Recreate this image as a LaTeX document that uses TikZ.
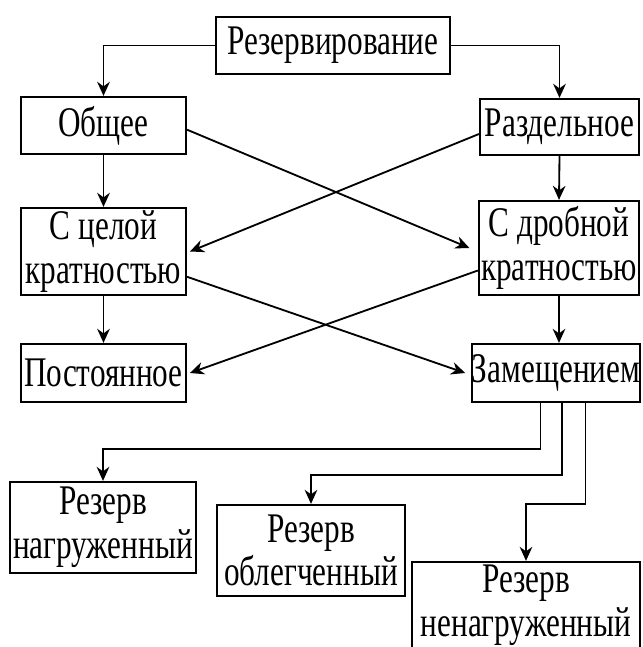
\documentclass[tikz,border=0pt]{standalone}
\usepackage{fontspec}
\setmainfont{Liberation Serif}[FakeStretch=0.74]
\usepackage{tikz}
\usetikzlibrary{positioning,arrows.meta}
\newdimen\pxu
\pxu=0.025cm

\begin{document}
\begin{tikzpicture}[x=\pxu,y=-\pxu,
		box/.style={draw,line width=1.6pt,inner sep=0pt,align=center,
			font=\fontsize{30}{31}\selectfont},
		link/.style={line width=1.3pt,-{Stealth[length=10pt,width=9pt]}}]
		\useasboundingbox (0,0) rectangle (643,647);

		% Top level
		\node[box,minimum width=234\pxu,minimum height=57\pxu] (rez) at (333,45.5) {Резервирование};
		\node[box,minimum width=165\pxu,minimum height=57\pxu] (obsh) at (103.5,125.5) {Общее};
		\node[box,minimum width=159\pxu,minimum height=56\pxu] (razd) at (559.5,127) {Раздельное};

		% Multiplicity
		\node[box,minimum width=165\pxu,minimum height=87\pxu] (celoi) at (103.5,251.5) {С целой\\кратностью};
		\node[box,minimum width=160\pxu,minimum height=94\pxu] (drob) at (559,248) {С дробной\\кратностью};

		% Kind of switching
		\node[box,minimum width=165\pxu,minimum height=58\pxu] (post) at (103.5,373) {Постоянное};
		\node[box,minimum width=168\pxu,minimum height=58\pxu] (zam) at (556,373) {Замещением};

		% Reserve states
		\node[box,minimum width=186\pxu,minimum height=91\pxu] (nagr) at (103,527.5) {Резерв\\нагруженный};
		\node[box,minimum width=188\pxu,minimum height=91\pxu] (obleg) at (311,550.5) {Резерв\\облегченный};
		\node[box,minimum width=228\pxu,minimum height=86\pxu] (nenagr) at (526,605) {Резерв\\ненагруженный};

		% Links
		\draw[link] (rez.west) -| (obsh.north);
		\draw[link] (rez.east) -| (razd.north);
		\draw[link] (obsh.south) -- (celoi.north);
		\draw[link] (razd.south) -- (drob.north);
		\draw[link] (celoi.south) -- (post.north);
		\draw[link] (drob.south) -- (drob.south |- zam.north);

		% Crossing links
		\draw[link] ([yshift=-3pt]obsh.east) -- ([xshift=-6pt]drob.west);
		\draw[link] ([yshift=-5pt]razd.west) -- ([xshift=2pt]celoi.east);
		\draw[link] ([yshift=-18pt]celoi.east) -- ([xshift=-4pt]zam.west);
		\draw[link] ([yshift=-16pt]drob.west) -- ([xshift=2pt]post.east);

		% Branches of replacement
		\coordinate (z1) at ([xshift=-11pt]zam.south);
		\coordinate (z2) at ([xshift=4pt]zam.south);
		\coordinate (z3) at ([xshift=21pt]zam.south);
		\draw[link] (z1) -- ++(0,46) -| (nagr.north);
		\draw[link] (z2) -- ++(0,72) -| (obleg.north);
		\draw[link] (z3) -- ++(0,101) -| (nenagr.north);
	\end{tikzpicture}
\end{document}
